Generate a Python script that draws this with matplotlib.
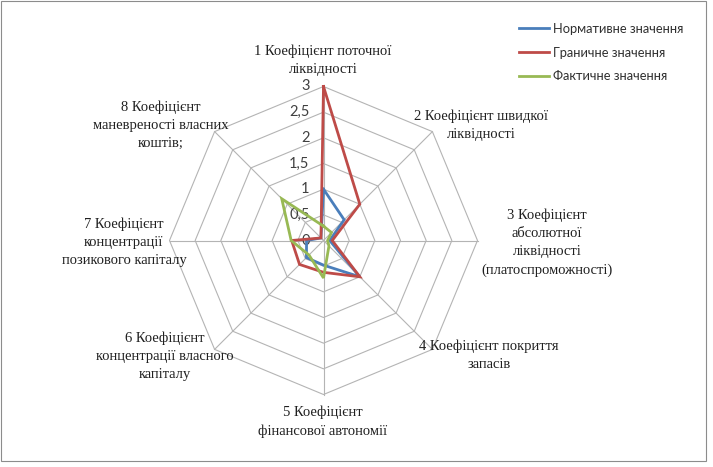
import numpy as np
import matplotlib
matplotlib.use('Agg')
import matplotlib.pyplot as plt
import matplotlib.transforms as mtransforms
from matplotlib.patches import Rectangle

# data
categories = ['1 Коефіцієнт поточної\nліквідності',
              '2 Коефіцієнт швидкої\nліквідності',
              '3 Коефіцієнт\nабсолютної\nліквідності\n(платоспроможності)',
              '4 Коефіцієнт покриття\nзапасів',
              '5 Коефіцієнт\nфінансової автономії',
              '6 Коефіцієнт\nконцентрації власного\nкапіталу',
              '7 Коефіцієнт\nконцентрації\nпозикового капіталу',
              '8 Коефіцієнт\nманевреності власних\nкоштів;']
normative = [1.0, 0.57, 0.12, 1.0, 0.48, 0.47, 0.33, 0.07]
limit = [3.0, 1.0, 0.17, 1.0, 0.62, 0.66, 0.62, 0.07]
actual = [0.28, 0.22, 0.08, 0.15, 0.73, 0.4, 0.63, 1.15]
series_names = ['Нормативне значення', 'Граничне значення', 'Фактичне значення']
r_ticks = [0, 0.5, 1, 1.5, 2, 2.5, 3]
r_labels = ['0', '0,5', '1', '1,5', '2', '2,5', '3']

colors = ['#4a7ebb', '#be4b48', '#98b954']
grid_color = '#b4b4b4'

W, H = 713, 467
fig = plt.figure(figsize=(W / 100, H / 100), dpi=100)
fig.patch.set_facecolor('white')

# chart border
fig.add_artist(Rectangle((1 / W, 6 / H), 705 / W, 460 / H, transform=fig.transFigure,
                         fill=False, edgecolor='#8c8c8c', linewidth=0.8))

cx, cy, rad = 323.5, 240.5, 154
ax = fig.add_axes([(cx - rad) / W, 1 - (cy + rad) / H, 2 * rad / W, 2 * rad / H],
                  projection='polar')
ax.set_theta_zero_location('N')
ax.set_theta_direction(-1)
ax.set_ylim(0, 3)
ax.grid(False)
ax.set_xticks([])
ax.set_yticks([])
ax.spines['polar'].set_visible(False)
ax.set_facecolor('none')

n = len(categories)
angles = np.arange(n) * 2 * np.pi / n
closed = np.concatenate([angles, angles[:1]])

# octagon grid
for lv in r_ticks[1:]:
    ax.plot(closed, [lv] * (n + 1), color=grid_color, lw=0.8, clip_on=False, zorder=1)
for a in angles:
    ax.plot([a, a], [0, 3], color=grid_color, lw=0.8, clip_on=False, zorder=1)

# radial tick labels
offset = mtransforms.ScaledTranslation(-14 / 100, 0, fig.dpi_scale_trans)
for rv, lab in zip(r_ticks, r_labels):
    ax.text(0, rv, lab, transform=ax.transData + offset, ha='right', va='center',
            fontsize=10.5, color='#404040', family='Lato', zorder=2)

for vals, col, name in zip([normative, limit, actual], colors, series_names):
    v = list(vals) + [vals[0]]
    ax.plot(closed, v, color=col, lw=2.0, label=name, clip_on=False, zorder=3,
            solid_joinstyle='miter')

# category labels (pixel centres)
label_pos = [(323, 60), (481, 125), (547, 243), (489, 355),
             (323, 422), (165, 356), (124, 242), (161, 125)]
for txt, (px, py) in zip(categories, label_pos):
    fig.text(px / W, 1 - py / H, txt, ha='center', va='center', fontsize=10.5,
             family='Liberation Serif', color='#202020', linespacing=1.5)

fig.legend(loc='upper left', bbox_to_anchor=(519 / W, 1 - 23 / H), frameon=False,
           prop={'family': 'Lato', 'size': 9.3}, handlelength=2.3, handletextpad=0.35,
           labelspacing=0.9, borderaxespad=0, borderpad=0, labelcolor='#303030')

fig.savefig('out.png', dpi=100)
